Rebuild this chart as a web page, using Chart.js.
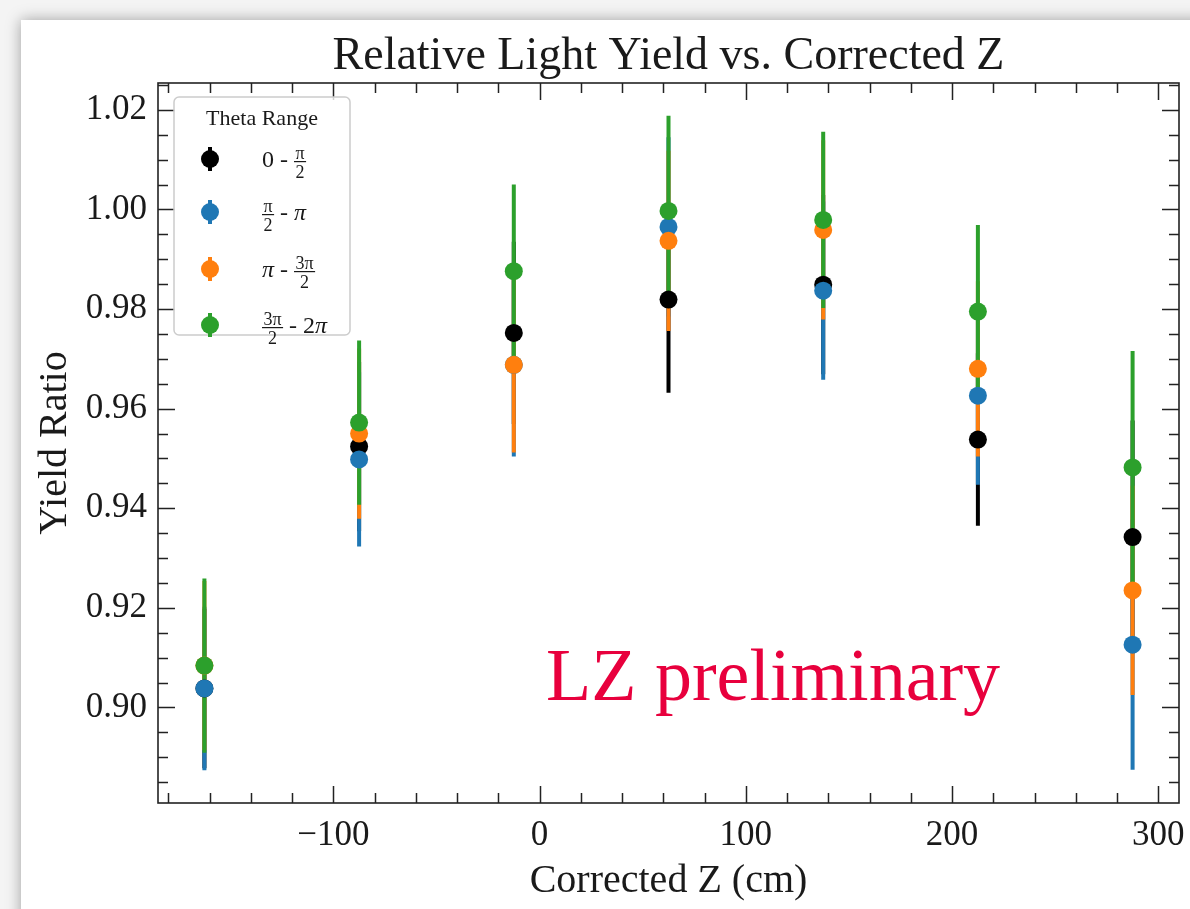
<!DOCTYPE html>
<html><head><meta charset="utf-8">
<script src="https://cdn.jsdelivr.net/npm/chart.js@4.4.0/dist/chart.umd.min.js"></script>
<style>
html,body{margin:0;padding:0;background:#f4f4f4;width:1190px;height:909px;overflow:hidden}
#card{position:absolute;left:21px;top:20px;width:1260px;height:1000px;background:#fff;box-shadow:0 0 14px rgba(0,0,0,0.35)}
#c{position:absolute;left:0;top:0}
</style></head>
<body><div id="card"></div><canvas id="c" width="1190" height="909"></canvas>
<script>
// ---- data ----
const zPositions = [-162.5, -87.5, -12.5, 62.5, 137.5, 212.5, 287.5];
const seriesNames = ['0 - π/2', 'π/2 - π', 'π - 3π/2', '3π/2 - 2π'];
const blackVals  = [0.9038, 0.9524, 0.9752, 0.9819, 0.9849, 0.9538, 0.9342];
const blackErr   = [0.0160, 0.0170, 0.0183, 0.0187, 0.0180, 0.0173, 0.0234];
const blueVals   = [0.9038, 0.9498, 0.9688, 0.9965, 0.9837, 0.9626, 0.9126];
const blueErr    = [0.0164, 0.0175, 0.0184, 0.0180, 0.0179, 0.0179, 0.0251];
const orangeVals = [0.9084, 0.9550, 0.9688, 0.9937, 0.9959, 0.9680, 0.9235];
const orangeErr  = [0.0170, 0.0171, 0.0176, 0.0181, 0.0180, 0.0176, 0.0210];
const greenVals  = [0.9084, 0.9572, 0.9876, 0.9997, 0.9979, 0.9795, 0.9482];
const greenErr   = [0.0175, 0.0165, 0.0174, 0.0191, 0.0177, 0.0174, 0.0234];
const xTickValues = [-100, 0, 100, 200, 300];
const yTickValues = [0.90, 0.92, 0.94, 0.96, 0.98, 1.00, 1.02];
const xRange = [-185, 310];
const yRange = [0.8808, 1.0254];

const colors = ['#000000', '#1f77b4', '#ff7f0e', '#2ca02c'];
const allVals = [blackVals, blueVals, orangeVals, greenVals];
const allErr = [blackErr, blueErr, orangeErr, greenErr];
const SERIF = "'Liberation Serif', 'Times New Roman', serif";
const INK = '#1a1a1a';

const datasets = allVals.map((vals, k) => ({
  label: seriesNames[k],
  data: zPositions.map((x, i) => ({x: x, y: vals[i]})),
  showLine: false,
  pointRadius: 9,
  pointHoverRadius: 9,
  pointBorderWidth: 0,
  pointBackgroundColor: colors[k],
  borderColor: colors[k],
  order: 4 - k
}));

const errorBars = {
  id: 'errorBars',
  beforeDatasetsDraw(chart) {
    const ctx = chart.ctx, xs = chart.scales.x, ys = chart.scales.y;
    ctx.save();
    ctx.lineWidth = 4;
    ctx.lineCap = 'butt';
    allVals.forEach((vals, k) => {
      ctx.strokeStyle = colors[k];
      vals.forEach((v, i) => {
        const px = xs.getPixelForValue(zPositions[i]);
        ctx.beginPath();
        ctx.moveTo(px, ys.getPixelForValue(v - allErr[k][i]));
        ctx.lineTo(px, ys.getPixelForValue(v + allErr[k][i]));
        ctx.stroke();
      });
    });
    ctx.restore();
  }
};

function drawPieces(ctx, x, c, pieces) {
  const mainFont = '24px ' + SERIF, itFont = 'italic 24px ' + SERIF, fracFont = '18px ' + SERIF;
  pieces.forEach(p => {
    if (p.f) {
      ctx.font = fracFont;
      const w = Math.max(ctx.measureText(p.f[0]).width, ctx.measureText(p.f[1]).width) + 3;
      ctx.textAlign = 'center';
      ctx.fillText(p.f[0], x + w / 2, c);
      ctx.fillText(p.f[1], x + w / 2, c + 19);
      ctx.fillRect(x, c + 2, w, 1.2);
      ctx.textAlign = 'left';
      x += w;
    } else {
      ctx.font = p.it ? itFont : mainFont;
      ctx.fillText(p.t, x, c + 8);
      x += ctx.measureText(p.t).width;
    }
  });
}

const decorations = {
  id: 'decorations',
  afterDraw(chart) {
    const ctx = chart.ctx, a = chart.chartArea, xs = chart.scales.x, ys = chart.scales.y;
    ctx.save();
    ctx.strokeStyle = '#222';
    ctx.lineWidth = 1.6;
    ctx.strokeRect(a.left, a.top, a.right - a.left, a.bottom - a.top);
    ctx.lineWidth = 1.5;
    ctx.beginPath();
    const xMinor = [];
    for (let v = -180; v <= 300; v += 20) xMinor.push(v);
    xMinor.forEach(v => {
      const major = xTickValues.includes(v);
      const L = major ? 17 : 10;
      const px = Math.round(xs.getPixelForValue(v)) + 0.5;
      ctx.moveTo(px, a.bottom); ctx.lineTo(px, a.bottom - L);
      ctx.moveTo(px, a.top); ctx.lineTo(px, a.top + L);
    });
    for (let j = 0; j <= 28; j++) {
      const v = 0.885 + j * 0.005;
      const major = (j % 4) === 3;
      const L = major ? 17 : 10;
      const py = Math.round(ys.getPixelForValue(v)) + 0.5;
      ctx.moveTo(a.left, py); ctx.lineTo(a.left + L, py);
      ctx.moveTo(a.right, py); ctx.lineTo(a.right - L, py);
    }
    ctx.stroke();

    ctx.fillStyle = INK;
    ctx.font = '46px ' + SERIF;
    ctx.textAlign = 'center';
    ctx.textBaseline = 'alphabetic';
    ctx.fillText('Relative Light Yield vs. Corrected Z', (a.left + a.right) / 2, 69);
    ctx.font = '40px ' + SERIF;
    ctx.fillText('Corrected Z (cm)', (a.left + a.right) / 2, 892);
    ctx.save();
    ctx.translate(66, (a.top + a.bottom) / 2);
    ctx.rotate(-Math.PI / 2);
    ctx.fillText('Yield Ratio', 0, 0);
    ctx.restore();
    ctx.fillStyle = '#e8003d';
    ctx.font = '74px ' + SERIF;
    ctx.textAlign = 'left';
    ctx.fillText('LZ preliminary', 546, 700);

    const bx = 174, by = 97, bw = 176, bh = 238, r = 5;
    ctx.beginPath();
    ctx.moveTo(bx + r, by);
    ctx.arcTo(bx + bw, by, bx + bw, by + bh, r);
    ctx.arcTo(bx + bw, by + bh, bx, by + bh, r);
    ctx.arcTo(bx, by + bh, bx, by, r);
    ctx.arcTo(bx, by, bx + bw, by, r);
    ctx.closePath();
    ctx.fillStyle = 'rgba(255,255,255,0.8)';
    ctx.fill();
    ctx.strokeStyle = '#cccccc';
    ctx.lineWidth = 1.5;
    ctx.stroke();
    ctx.fillStyle = INK;
    ctx.font = '22px ' + SERIF;
    ctx.textAlign = 'center';
    ctx.fillText('Theta Range', 262, 125);
    const rows = [159, 212, 269, 325];
    const labels = [
      [{t: '0 - '}, {f: ['π', '2']}],
      [{f: ['π', '2']}, {t: ' - '}, {t: 'π', it: true}],
      [{t: 'π', it: true}, {t: ' - '}, {f: ['3π', '2']}],
      [{f: ['3π', '2']}, {t: ' - 2'}, {t: 'π', it: true}]
    ];
    rows.forEach((c, k) => {
      ctx.strokeStyle = colors[k];
      ctx.fillStyle = colors[k];
      ctx.lineWidth = 4;
      ctx.beginPath();
      ctx.moveTo(210, c - 12); ctx.lineTo(210, c + 12);
      ctx.stroke();
      ctx.beginPath();
      ctx.arc(210, c, 9, 0, Math.PI * 2);
      ctx.fill();
      ctx.fillStyle = INK;
      ctx.textAlign = 'left';
      drawPieces(ctx, 262, c, labels[k]);
    });
    ctx.restore();
  }
};

new Chart(document.getElementById('c'), {
  type: 'scatter',
  data: {datasets: datasets},
  options: {
    responsive: false,
    animation: false,
    devicePixelRatio: 1,
    layout: {padding: {left: 0, top: 83, right: 11, bottom: 0}},
    plugins: {legend: {display: false}, tooltip: {enabled: false}, title: {display: false}},
    scales: {
      x: {
        type: 'linear', min: xRange[0], max: xRange[1],
        grid: {display: false, drawTicks: false},
        border: {display: false},
        afterBuildTicks: s => { s.ticks = xTickValues.map(v => ({value: v})); },
        afterFit: s => { s.height = 106; s.paddingLeft = 0; s.paddingRight = 0; },
        ticks: {padding: 12, color: INK, font: {family: SERIF, size: 35}, maxRotation: 0, autoSkip: false,
          callback: v => v < 0 ? '\u2212' + Math.abs(v) : String(v)}
      },
      y: {
        type: 'linear', min: yRange[0], max: yRange[1],
        grid: {display: false, drawTicks: false},
        border: {display: false},
        afterBuildTicks: s => { s.ticks = yTickValues.map(v => ({value: v})); },
        afterFit: s => { s.width = 158; s.paddingTop = 0; s.paddingBottom = 0; },
        ticks: {padding: 11, color: INK, font: {family: SERIF, size: 35}, autoSkip: false,
          callback: v => Number(v).toFixed(2)}
      }
    }
  },
  plugins: [errorBars, decorations]
});
</script>
</body></html>
